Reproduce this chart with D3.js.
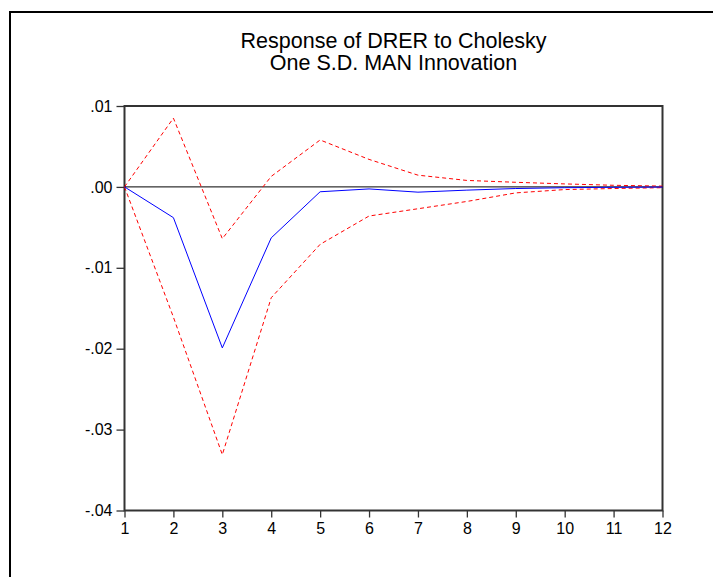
<!DOCTYPE html>
<html>
<head>
<meta charset="utf-8">
<script src="https://cdn.jsdelivr.net/npm/d3@7"></script>
<style>
  body { margin: 0; background: #fff; }
  svg text { font-family: "Liberation Sans", Arial, sans-serif; }
</style>
</head>
<body>
<div id="wrapper"></div>
<script>
// periods on the x axis
const periods = [1, 2, 3, 4, 5, 6, 7, 8, 9, 10, 11, 12];
// impulse response (blue) and +/- 2 S.E. bands (red dashed)
const response = [0, -0.0038, -0.0199, -0.0063, -0.0006, -0.00025, -0.00065, -0.0004, -0.0002, -0.0001, -0.00005, -0.00002];
const upperBand = [0, 0.0085, -0.0064, 0.0013, 0.0058, 0.0034, 0.00145, 0.0008, 0.00057, 0.00037, 0.0002, 0.0001];
const lowerBand = [0, -0.0161, -0.0331, -0.0137, -0.0071, -0.0036, -0.0027, -0.0018, -0.00074, -0.00033, -0.0002, -0.0001];
const yTicks = [0.01, 0, -0.01, -0.02, -0.03, -0.04];
const titleLines = ["Response of DRER to Cholesky", "One S.D. MAN Innovation"];

function drawChart() {
    let dimension = {
        width: 713,
        height: 577,
        margin: { top: 106, right: 50.5, bottom: 66.5, left: 124.5 },
    };
    dimension.boundedWidth = dimension.width - dimension.margin.left - dimension.margin.right;
    dimension.boundedHeight = dimension.height - dimension.margin.top - dimension.margin.bottom;

    const wrapper = d3.select("#wrapper")
        .append("svg")
        .attr("width", dimension.width)
        .attr("height", dimension.height);

    // outer frame (left and top edges only are visible)
    wrapper.append("path")
        .attr("d", "M10,577V12H713")
        .attr("fill", "none")
        .attr("stroke", "#000")
        .attr("stroke-width", 2);

    // title
    const title = wrapper.append("text")
        .attr("text-anchor", "middle")
        .attr("font-size", 21.5)
        .attr("fill", "#000");
    titleLines.forEach((line, i) => {
        title.append("tspan")
            .attr("x", dimension.margin.left + dimension.boundedWidth / 2)
            .attr("y", 48 + i * 22)
            .text(line);
    });

    const bounds = wrapper.append("g")
        .attr("transform", `translate(${dimension.margin.left},${dimension.margin.top})`);

    const xScaler = d3.scaleLinear()
        .domain([1, 12])
        .range([0, dimension.boundedWidth]);

    const yScaler = d3.scaleLinear()
        .domain([-0.04, 0.01])
        .range([dimension.boundedHeight, 0]);

    // EViews style: ".01", ".00", "-.01"
    const fmt = v => (v < 0 ? "-" : "") + Math.abs(v).toFixed(2).replace("0.", ".");

    // axes
    const yAxis = bounds.append("g")
        .call(d3.axisLeft(yScaler).tickValues(yTicks).tickFormat(fmt).tickSize(8).tickPadding(4));
    const xAxis = bounds.append("g")
        .attr("transform", `translate(0,${dimension.boundedHeight})`)
        .call(d3.axisBottom(xScaler).tickValues(periods).tickFormat(d3.format("d")).tickSize(7).tickPadding(5));

    [yAxis, xAxis].forEach(ax => {
        ax.attr("font-size", 16).attr("font-family", "'Liberation Sans', Arial, sans-serif");
        ax.select(".domain").remove();
        ax.selectAll("line").attr("stroke", "#333").attr("stroke-width", 1.3);
        ax.selectAll("text").attr("fill", "#000");
    });

    // plot frame
    bounds.append("rect")
        .attr("width", dimension.boundedWidth)
        .attr("height", dimension.boundedHeight)
        .attr("fill", "none")
        .attr("stroke", "#333")
        .attr("stroke-width", 2);

    // zero line
    bounds.append("line")
        .attr("x1", 0)
        .attr("x2", dimension.boundedWidth)
        .attr("y1", yScaler(0))
        .attr("y2", yScaler(0))
        .attr("stroke", "#000")
        .attr("stroke-width", 1);

    const lineFor = values => d3.line()
        .x((d, i) => xScaler(periods[i]))
        .y(d => yScaler(d))(values);

    bounds.append("path")
        .attr("fill", "none")
        .attr("stroke", "#ff0000")
        .attr("stroke-width", 1)
        .attr("stroke-dasharray", "4,3")
        .attr("d", lineFor(upperBand));

    bounds.append("path")
        .attr("fill", "none")
        .attr("stroke", "#ff0000")
        .attr("stroke-width", 1)
        .attr("stroke-dasharray", "4,3")
        .attr("d", lineFor(lowerBand));

    bounds.append("path")
        .attr("fill", "none")
        .attr("stroke", "#0000ff")
        .attr("stroke-width", 1)
        .attr("d", lineFor(response));
}

drawChart();
</script>
</body>
</html>
